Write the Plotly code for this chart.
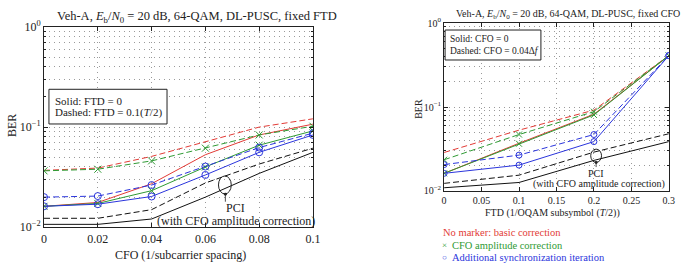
import plotly.graph_objects as go

W, H = 685, 274

# ---------------- data: left panel (fixed FTD, varying CFO) ----------------
cfo = [0, 0.02, 0.04, 0.06, 0.08, 0.1]
l_red_solid = [0.0162, 0.0177, 0.0272, 0.053, 0.0835, 0.107]
l_green_solid = [0.0162, 0.0173, 0.0232, 0.040, 0.066, 0.0917]
l_blue_solid = [0.0162, 0.0170, 0.0203, 0.0333, 0.056, 0.0835]
l_red_dash = [0.037, 0.039, 0.051, 0.071, 0.100, 0.121]
l_green_dash = [0.0366, 0.038, 0.046, 0.0616, 0.0835, 0.102]
l_blue_dash = [0.020, 0.0205, 0.0264, 0.0404, 0.0625, 0.087]
l_pci_solid = [0.0107, 0.0107, 0.0121, 0.0200, 0.0345, 0.056]
l_pci_dash = [0.0123, 0.0123, 0.0150, 0.0277, 0.0428, 0.0616]

# ---------------- data: right panel (fixed CFO, varying FTD) ----------------
ftd = [0, 0.1, 0.2, 0.3]
r_red_solid = [0.0162, 0.0370, 0.0820, 0.41]
r_green_solid = [0.0162, 0.0365, 0.0805, 0.41]
r_blue_solid = [0.0162, 0.0203, 0.0387, 0.41]
r_red_dash = [0.0287, 0.053, 0.0918, 0.41]
r_green_dash = [0.0235, 0.047, 0.088, 0.41]
r_blue_dash = [0.0206, 0.0267, 0.047, 0.41]
r_pci_solid = [0.0109, 0.0126, 0.0231, 0.0387]
r_pci_dash = [0.0123, 0.0154, 0.029, 0.048]

left_xticks = [0, 0.02, 0.04, 0.06, 0.08, 0.1]
left_xticktext = ["0", "0.02", "0.04", "0.06", "0.08", "0.1"]
right_xticks = [0, 0.05, 0.1, 0.15, 0.2, 0.25, 0.3]
right_xticktext = ["0", "0.05", "0.1", "0.15", "0.2", "0.25", "0.3"]
yticks = [0.01, 0.1, 1]
yticktext = ["10<sup>−2</sup>", "10<sup>−1</sup>", "10<sup>0</sup>"]
minor_y = [m * d for d in (0.01, 0.1) for m in range(2, 10)]

RED = "#e23b36"
GREEN = "#2f9a34"
BLUE = "#2b35dc"
BLACK = "#111111"
FONT = "Liberation Serif"
DASH = "6px,3px"
GRIDC = "#9a9a9a"
GRIDDASH = "1px,4px"

def px(x):
    return x / W

def py(y):
    return 1 - y / H

fig = go.Figure()

def add(xs, ys, color, dash, marker, xa, ya, msize):
    mode = "lines+markers" if marker else "lines"
    fig.add_trace(go.Scatter(
        x=xs, y=ys, mode=mode, xaxis=xa, yaxis=ya, showlegend=False,
        line=dict(color=color, width=1, dash=dash),
        marker=dict(symbol=marker or "circle", size=msize, color=color,
                    line=dict(color=color, width=1)) if marker else None,
    ))

# left panel
for ys, c, d, m in [
    (l_pci_solid, BLACK, "solid", None), (l_pci_dash, BLACK, DASH, None),
    (l_red_dash, RED, DASH, None), (l_red_solid, RED, "solid", None),
    (l_green_dash, GREEN, DASH, "x-thin-open"), (l_green_solid, GREEN, "solid", "x-thin-open"),
    (l_blue_dash, BLUE, DASH, "circle-open"), (l_blue_solid, BLUE, "solid", "circle-open"),
]:
    add(cfo, ys, c, d, m, "x", "y", 7)

# right panel
for ys, c, d, m in [
    (r_pci_solid, BLACK, "solid", None), (r_pci_dash, BLACK, DASH, None),
    (r_red_dash, RED, DASH, None), (r_red_solid, RED, "solid", None),
    (r_green_dash, GREEN, DASH, "x-thin-open"), (r_green_solid, GREEN, "solid", "x-thin-open"),
    (r_blue_dash, BLUE, DASH, "circle-open"), (r_blue_solid, BLUE, "solid", "circle-open"),
]:
    add(ftd, ys, c, d, m, "x2", "y2", 6)

grid = dict(showgrid=True, gridcolor=GRIDC, griddash=GRIDDASH, gridwidth=1)
frame = dict(showline=True, linecolor="#222", linewidth=1, mirror="ticks",
             ticks="inside", ticklen=4, tickcolor="#222", zeroline=False,
             ticklabeloverflow="allow")

def yminor():
    return dict(tickvals=minor_y, showgrid=True, gridcolor=GRIDC,
                griddash=GRIDDASH, ticks="inside", ticklen=2, tickcolor="#222")

fig.update_layout(
    width=W, height=H, margin=dict(l=0, r=0, t=0, b=0),
    paper_bgcolor="white", plot_bgcolor="white",
    font=dict(family=FONT, color="#222", size=12),
    xaxis=dict(domain=[px(41.7), px(315)], range=[0, 0.1], anchor="y",
               tickvals=left_xticks, ticktext=left_xticktext,
               tickfont=dict(size=12), **grid, **frame),
    yaxis=dict(domain=[py(232), py(20)], type="log", range=[-2, 0], anchor="x",
               tickvals=yticks, ticktext=yticktext, tickfont=dict(size=12),
               minor=yminor(), **grid, **frame),
    xaxis2=dict(domain=[px(448.3), px(676.7)], range=[0, 0.3], anchor="y2",
                tickvals=right_xticks, ticktext=right_xticktext,
                tickfont=dict(size=10), **grid, **frame),
    yaxis2=dict(domain=[py(193.5), py(16)], type="log", range=[-2, 0], anchor="x2",
                tickvals=yticks, ticktext=yticktext, tickfont=dict(size=10),
                minor=yminor(), **grid, **frame),
)

ann = []
def text(x, y, s, size, color="#222", xanchor="center", angle=0):
    ann.append(dict(x=px(x), y=py(y), xref="paper", yref="paper", text=s,
                    showarrow=False, xanchor=xanchor, yanchor="middle",
                    textangle=angle, borderpad=0,
                    font=dict(size=size, color=color, family=FONT)))

# titles
text(54, 9, "Veh-A, <i>E</i><sub>b</sub>/<i>N</i><sub>0</sub> = 20 dB, 64-QAM, DL-PUSC, fixed FTD", 12.5, xanchor="left")
text(459, 7, "Veh-A, <i>E</i><sub>b</sub>/<i>N</i><sub>0</sub> = 20 dB, 64-QAM, DL-PUSC, fixed CFO", 10, xanchor="left")
# axis titles
text(180, 261, "CFO (1/subcarrier spacing)", 12)
text(558, 217, "FTD (1/OQAM subsymbol (<i>T</i>/2))", 10)
text(9, 124, "BER", 12, angle=-90)
text(421.5, 107, "BER", 10, angle=-90)
# inset legends
text(52, 98, "Solid: FTD = 0", 11, xanchor="left")
text(52, 111, "Dashed: FTD = 0.1(<i>T</i>/2)", 11, xanchor="left")
text(453, 33, "Solid: CFO = 0", 9.5, xanchor="left")
text(453, 46, "Dashed: CFO = 0.04Δ<i>f</i>", 9.5, xanchor="left")
# PCI labels
text(236.7, 212, "PCI", 12)
text(237, 225, "(with CFO amplitude correction)", 12)
text(602.7, 175, "PCI", 10)
text(606, 186, "(with CFO amplitude correction)", 10)
# bottom legend
text(446, 237, "No marker: basic correction", 10.5, color=RED, xanchor="left")
text(445, 251, "×", 9, color=GREEN, xanchor="left")
text(455, 251, "CFO amplitude correction", 10.5, color=GREEN, xanchor="left")
text(445, 264, "○", 8, color=BLUE, xanchor="left")
text(455, 264, "Additional synchronization iteration", 10.5, color=BLUE, xanchor="left")

# arrows to ellipses
for tipx, tipy, tail in [(226, 197, 9), (602.8, 163.5, 6)]:
    ann.append(dict(x=px(tipx), y=py(tipy), xref="paper", yref="paper", text="",
                    showarrow=True, ax=0, ay=tail, axref="pixel", ayref="pixel",
                    arrowhead=6, arrowsize=0.9, arrowwidth=0.8, arrowcolor="#222"))

fig.update_layout(annotations=ann)

shapes = []
# inset legend boxes
shapes.append(dict(type="rect", xref="paper", yref="paper",
                   x0=px(46.7), x1=px(166.7), y0=py(122.7), y1=py(86),
                   line=dict(color="#222", width=1), fillcolor="white", layer="above"))
shapes.append(dict(type="rect", xref="paper", yref="paper",
                   x0=px(449.3), x1=px(546.7), y0=py(55), y1=py(23.3),
                   line=dict(color="#222", width=1), fillcolor="white", layer="above"))
# ellipses
shapes.append(dict(type="circle", xref="paper", yref="paper",
                   x0=px(219), x1=px(232), y0=py(196.7), y1=py(177.7),
                   line=dict(color="#222", width=1)))
shapes.append(dict(type="circle", xref="paper", yref="paper",
                   x0=px(597.3), x1=px(608.3), y0=py(163.3), y1=py(149.3),
                   line=dict(color="#222", width=1)))
fig.update_layout(shapes=shapes)

fig.write_html(
    "out.html",
    config={"displayModeBar": False},
    post_script="document.body.style.margin='0';document.body.style.padding='0';"
                "document.documentElement.style.overflow='hidden';",
)
